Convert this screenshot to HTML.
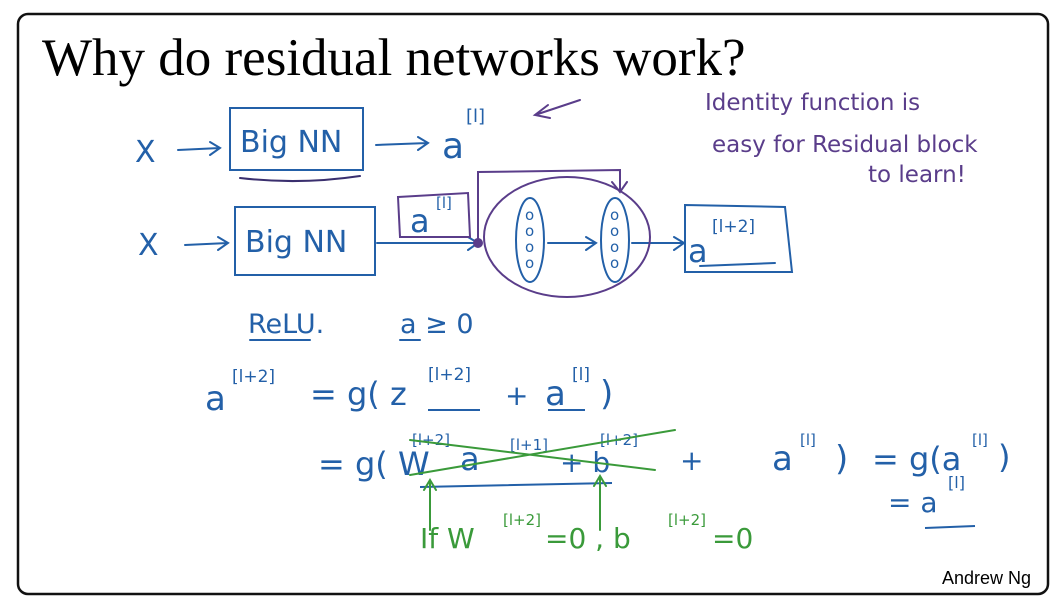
<!DOCTYPE html>
<html><head><meta charset="utf-8"><style>
html,body{margin:0;padding:0;background:#fff;}
svg{display:block;}
.hw{font-family:"DejaVu Sans","Liberation Sans",sans-serif;}
</style></head><body>
<svg width="1057" height="601" viewBox="0 0 1057 601">
<rect x="0" y="0" width="1057" height="601" fill="#fff"/>
<rect x="18" y="14" width="1030" height="580" rx="10" fill="none" stroke="#111" stroke-width="2.5"/>
<text x="42" y="75" font-family="'Liberation Serif',serif" font-size="53" fill="#000">Why do residual networks work?</text>
<text x="942" y="584" font-family="'Liberation Sans',sans-serif" font-size="18" fill="#000">Andrew Ng</text>

<g fill="none" stroke="#2360a8" stroke-width="2" stroke-linecap="round">
  <path d="M178 150 L220 148 M210 142 L220 148 L210 155"/>
  <rect x="230" y="108" width="133" height="62"/>
  <path d="M240 178 Q300 185 360 176" stroke="#3a2f6e"/>
  <path d="M376 145 L428 143 M418 137 L428 143 L418 150"/>
  <path d="M185 245 L228 243 M218 237 L228 243 L218 250"/>
  <rect x="235" y="207" width="140" height="68"/>
  <path d="M377 243 L478 243 M468 237 L478 243 L468 250"/>
  <ellipse cx="530" cy="240" rx="14" ry="42"/>
  <ellipse cx="615" cy="240" rx="14" ry="42"/>
  <path d="M548 243 L596 243 M586 237 L596 243 L586 250"/>
  <path d="M632 243 L684 243 M674 237 L684 243 L674 250"/>
  <path d="M685 205 L785 207 L792 272 L685 272 Z"/>
  <path d="M700 266 L775 263"/>
  <path d="M250 340 L310 340 M400 340 L420 340"/>
</g>
<g fill="none" stroke="#5a3d8a" stroke-width="2" stroke-linecap="round">
  <path d="M580 100 L535 115 M548 105 L535 115 L550 118"/>
  <path d="M398 197 L468 193 L470 237 L400 237 Z"/>
  <ellipse cx="567" cy="237" rx="83" ry="60"/>
  <path d="M478 243 L478 172 L620 170 L620 192 M612 182 L620 192 L627 182"/>
  <circle cx="478" cy="243" r="4" fill="#5a3d8a"/>
</g>
<g class="hw" fill="#2360a8">
  <text x="135" y="162" font-size="30">X</text>
  <text x="240" y="152" font-size="30">Big NN</text>
  <text x="442" y="158" font-size="36">a</text>
  <text x="466" y="122" font-size="18">[l]</text>
  <text x="138" y="255" font-size="30">X</text>
  <text x="245" y="252" font-size="30">Big NN</text>
  <text x="410" y="232" font-size="32">a</text>
  <text x="436" y="208" font-size="15">[l]</text>
  <g font-size="15"><text x="525" y="220">o</text><text x="525" y="236">o</text><text x="525" y="252">o</text><text x="525" y="268">o</text>
  <text x="610" y="220">o</text><text x="610" y="236">o</text><text x="610" y="252">o</text><text x="610" y="268">o</text></g>
  <text x="688" y="262" font-size="32">a</text>
  <text x="712" y="232" font-size="17">[l+2]</text>
  <text x="248" y="333" font-size="27">ReLU.</text>
  <text x="400" y="333" font-size="27">a ≥ 0</text>
  <text x="205" y="410" font-size="34">a</text>
  <text x="232" y="382" font-size="17">[l+2]</text>
  <text x="310" y="405" font-size="32">=  g( z</text>
  <text x="428" y="380" font-size="17">[l+2]</text>
  <text x="505" y="405" font-size="28">+</text>
  <text x="545" y="405" font-size="34">a</text>
  <text x="572" y="380" font-size="17">[l]</text>
  <text x="600" y="405" font-size="34">)</text>
  <text x="318" y="475" font-size="32">=  g( W</text>
  <text x="412" y="445" font-size="15">[l+2]</text>
  <text x="460" y="470" font-size="32">a</text>
  <text x="510" y="450" font-size="15">[l+1]</text>
  <text x="560" y="472" font-size="28">+ b</text>
  <text x="600" y="445" font-size="15">[l+2]</text>
  <text x="680" y="470" font-size="28">+</text>
  <text x="772" y="470" font-size="34">a</text>
  <text x="800" y="445" font-size="15">[l]</text>
  <text x="835" y="470" font-size="34">)</text>
  <text x="872" y="470" font-size="32">= g(a</text>
  <text x="972" y="445" font-size="15">[l]</text>
  <text x="998" y="468" font-size="32">)</text>
  <text x="888" y="512" font-size="28">= a</text>
  <text x="948" y="488" font-size="16">[l]</text>
</g>
<g fill="none" stroke="#2360a8" stroke-width="2">
  <path d="M428 410 L480 410 M548 410 L585 410 M925 528 L975 526 M420 487 L612 483"/>
</g>
<g fill="none" stroke="#3a9a3a" stroke-width="2" stroke-linecap="round">
  <path d="M410 440 L655 470 M410 475 L675 430"/>
  <path d="M430 530 L430 480 M424 490 L430 480 L436 490"/>
  <path d="M600 530 L600 476 M594 486 L600 476 L606 486"/>
</g>
<g class="hw" fill="#3a9a3a">
  <text x="420" y="548" font-size="28">If W</text>
  <text x="503" y="525" font-size="15">[l+2]</text>
  <text x="545" y="548" font-size="28">=0 , b</text>
  <text x="668" y="525" font-size="15">[l+2]</text>
  <text x="712" y="548" font-size="28">=0</text>
</g>
<g class="hw" fill="#5a3d8a" font-size="23">
  <text x="705" y="110">Identity function is</text>
  <text x="712" y="152">easy  for Residual block</text>
  <text x="868" y="182">to learn!</text>
</g>
</svg>
</body></html>
